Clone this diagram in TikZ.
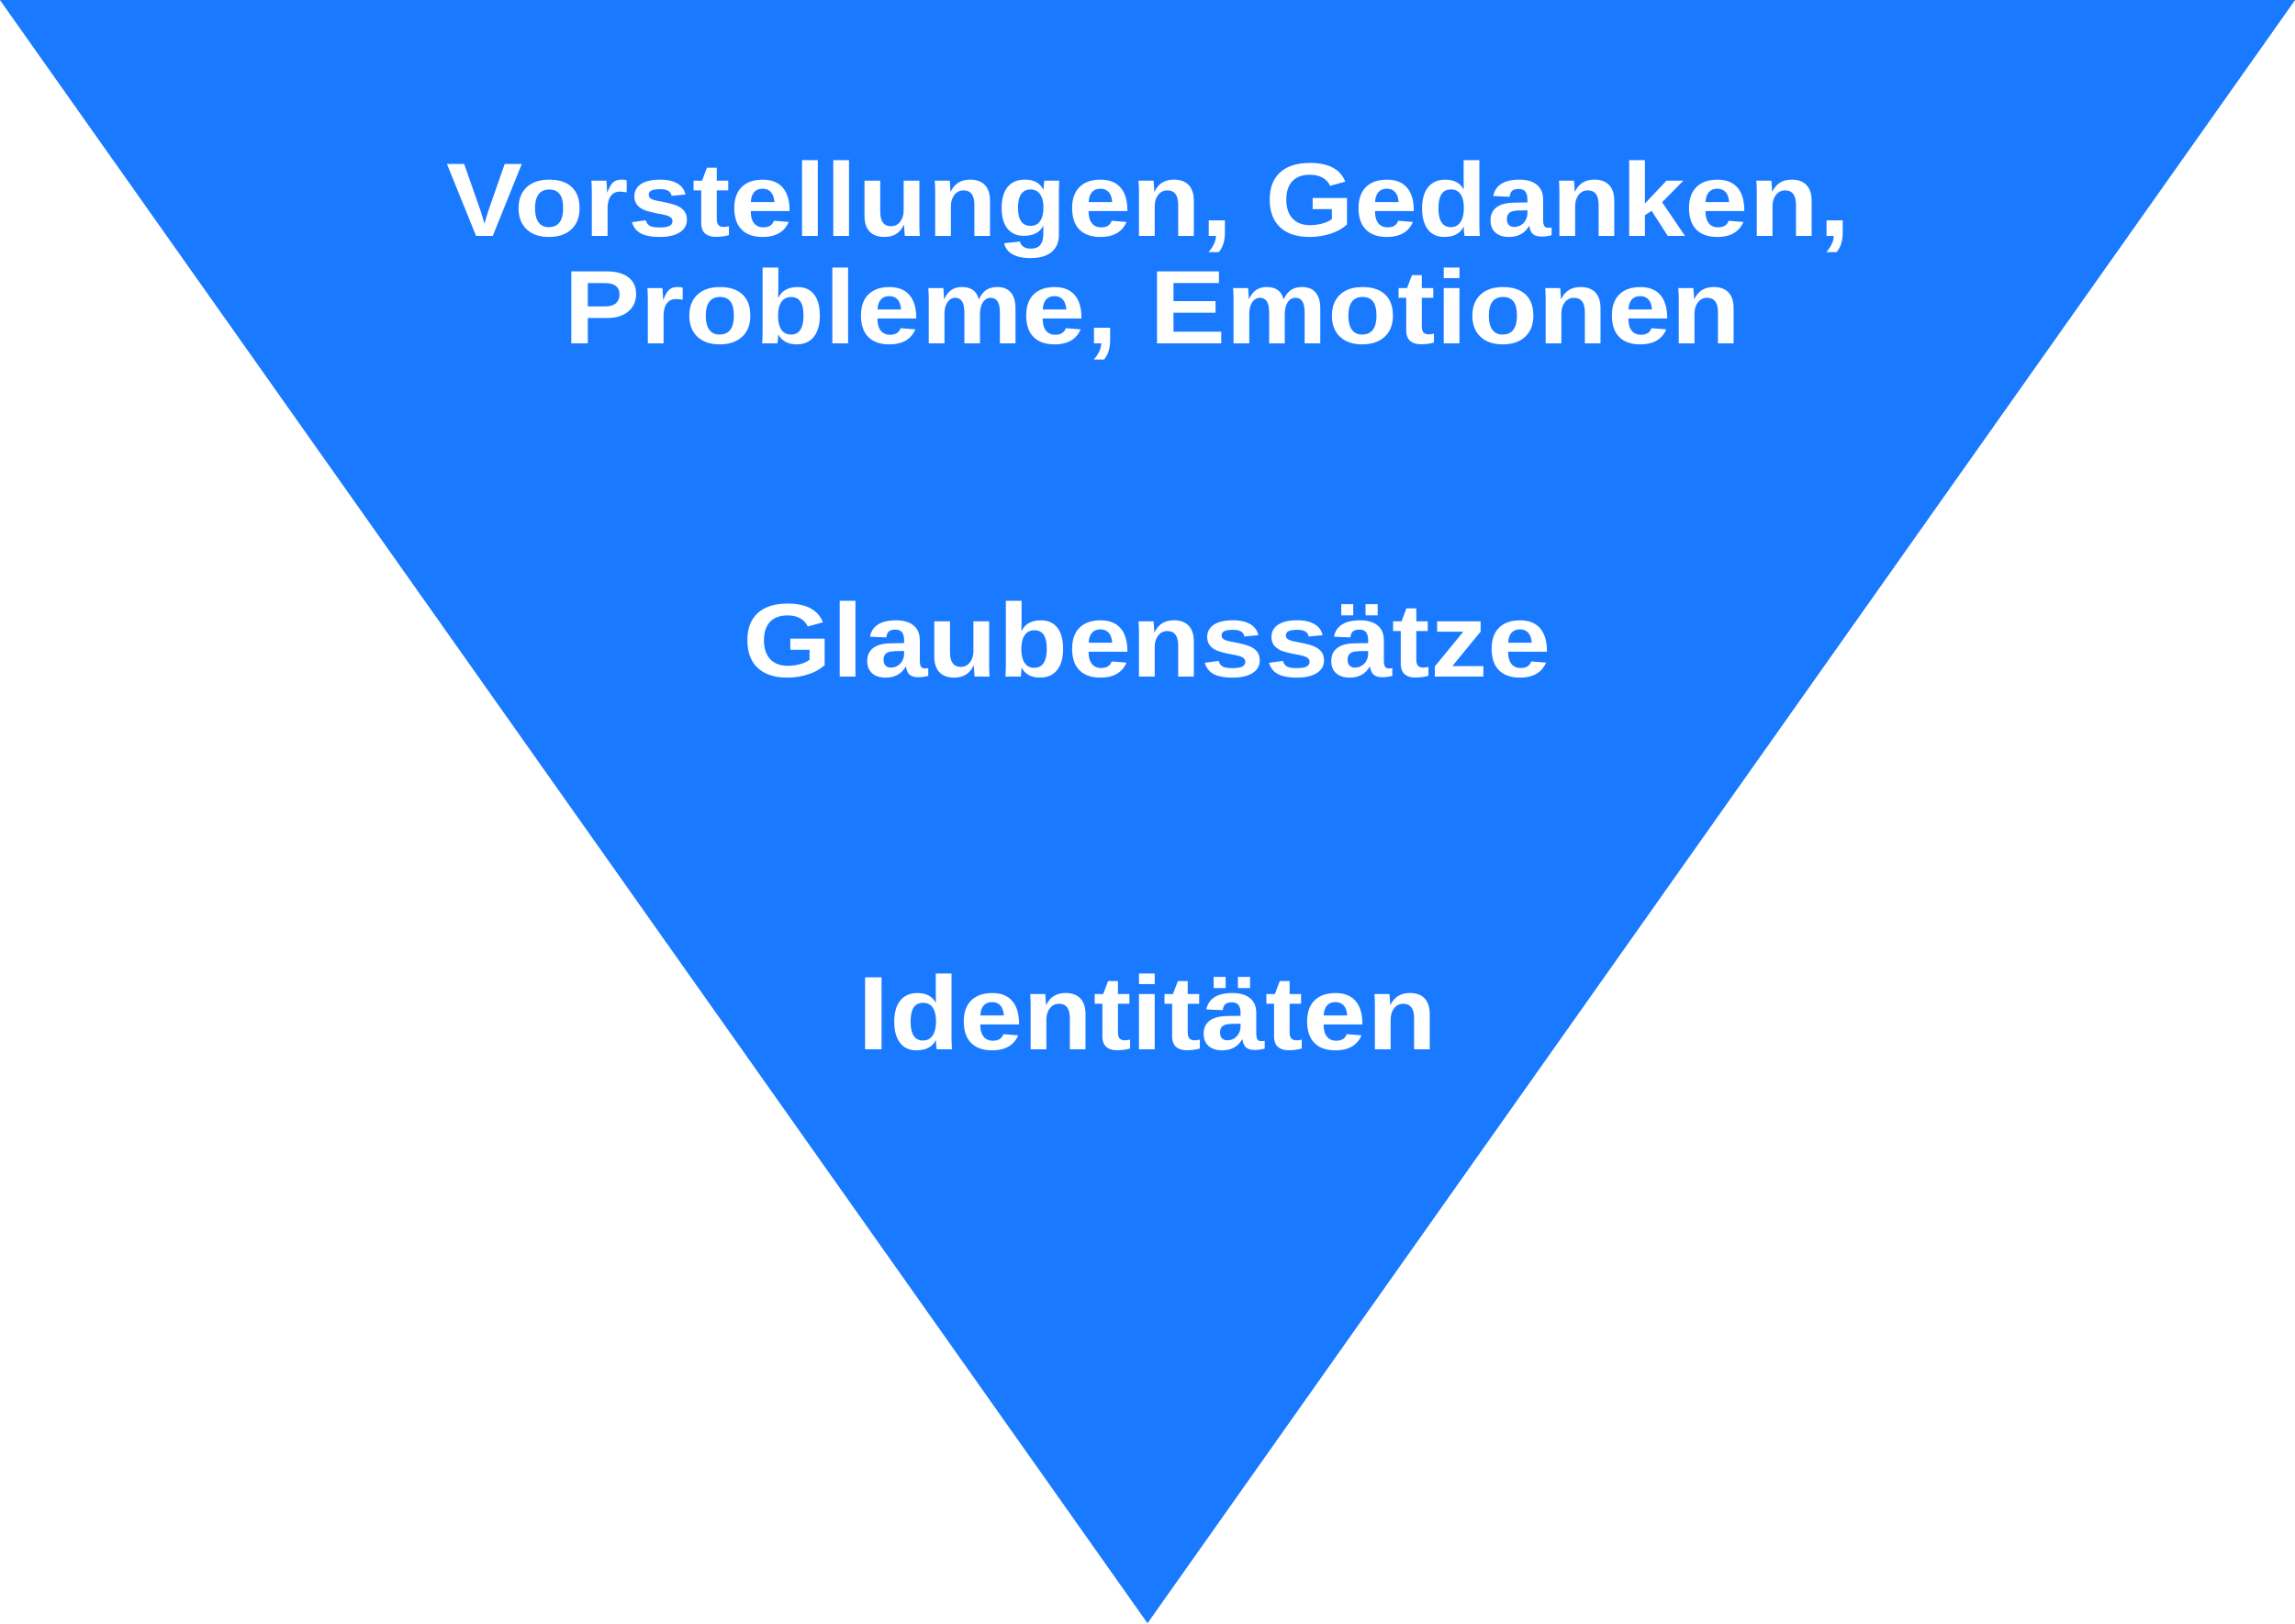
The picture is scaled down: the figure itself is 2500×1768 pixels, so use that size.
\documentclass[tikz,border=0pt]{standalone}
\usepackage{fontspec}
\setmainfont{Liberation Sans}
\newfontfamily\pyrfont[FakeStretch=1.095]{Liberation Sans}
\usetikzlibrary{positioning}

\definecolor{pyrblue}{HTML}{1A7AFF}

\tikzset{
  pyrtext/.style={text=white,font=\pyrfont\fontsize{32.4pt}{35pt}\selectfont\bfseries,
    inner sep=0pt,anchor=base}
}

\begin{document}
\begin{tikzpicture}[x=0.01cm,y=-0.01cm]

\useasboundingbox (0,0) rectangle (2500,1768);

% Inverted triangle filling the whole picture.
\fill[pyrblue] (0,0) -- (2500,0) -- (1250,1768) -- cycle;

% Top level, two lines.
\node[pyrtext] (vorst) at (1251,257) {Vorstellungen, Gedanken,};
\node[pyrtext] (probl) at (1256,374) {Probleme, Emotionen};

% Middle level.
\node[pyrtext] (glaub) at (1250,737) {Glaubenssätze};

% Bottom level.
\node[pyrtext] (ident) at (1250,1143) {Identitäten};

\end{tikzpicture}
\end{document}
